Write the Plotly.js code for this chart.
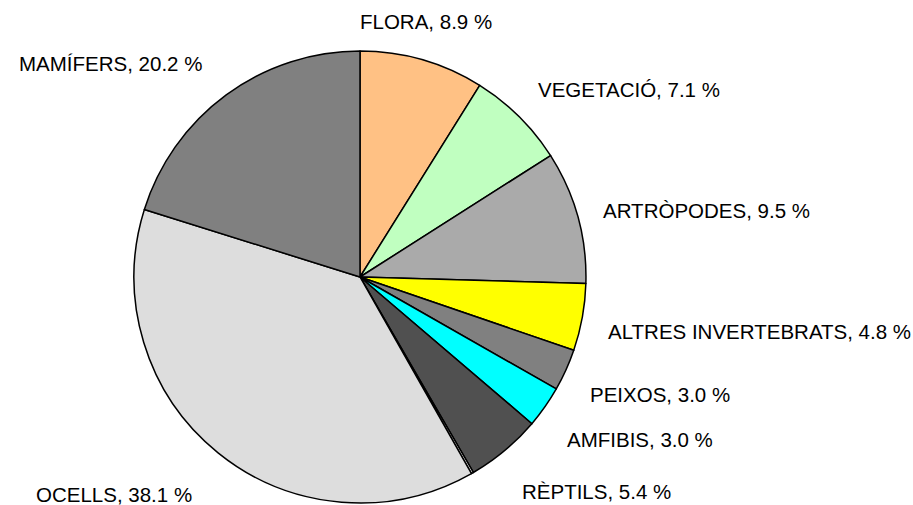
<!DOCTYPE html>
<html>
<head>
<meta charset="utf-8">
<script src="https://cdn.plot.ly/plotly-3.0.1.min.js"></script>
<style>
  html, body { margin: 0; padding: 0; background: #fff; }
  #graphDiv { width: 913px; height: 505px; }
</style>
</head>
<body>
<div id="graphDiv"></div>
<script>
// slices, clockwise from 12 o'clock
var labels = ['FLORA', 'VEGETACIÓ', 'ARTRÒPODES', 'ALTRES INVERTEBRATS', 'PEIXOS',
              'AMFIBIS', 'RÈPTILS', 'ALTRES', 'OCELLS', 'MAMÍFERS'];
var values = [8.9, 7.1, 9.5, 4.8, 3.0, 3.0, 5.4, 0.15, 38.1, 20.2];
var shown = [true, true, true, true, true, true, true, false, true, true];
var colors = ['#ffc184', '#c0ffc0', '#aaaaaa', '#ffff00', '#808080',
              '#00ffff', '#505050', '#ffffff', '#dddddd', '#808080'];

var W = 913, H = 505;
var domX = [0.1468, 0.6418], domY = [0.004, 0.899];

// pie centre / radius in pixels (follows from the domain)
var cx = (domX[0] + domX[1]) / 2 * W;
var cy = H - (domY[0] + domY[1]) / 2 * H;
var R = Math.min((domX[1] - domX[0]) * W, (domY[1] - domY[0]) * H) / 2;

var font = { family: 'Liberation Sans, Arial, sans-serif', size: 20.5, color: '#000' };

// labels sit a bit away from the rim, like the original
var total = values.reduce(function(a, b){ return a + b; }, 0);
var annotations = [];
var cum = 0;
for (var i = 0; i < values.length; i++) {
  var mid = (cum + values[i] / 2) / total * 2 * Math.PI;
  cum += values[i];
  if (!shown[i]) continue;
  var s = Math.sin(mid), c = Math.cos(mid);
  var anchor, px;
  if (Math.abs(s) < 0.3) { anchor = 'center'; px = cx + (R + 14) * s; }
  else if (s > 0) { anchor = 'left'; px = cx + (R + 24) * s; }
  else { anchor = 'right'; px = cx + (R + 38) * s; }
  var py = cy - (R + 46) * c + 6;
  annotations.push({
    xref: 'paper', yref: 'paper',
    x: px / W, y: (H - py) / H,
    xanchor: anchor, yanchor: 'middle',
    text: labels[i] + ', ' + values[i].toFixed(1) + ' %',
    showarrow: false,
    font: font
  });
}

var pie = {
  type: 'pie',
  labels: labels,
  values: values,
  textinfo: 'none',
  sort: false,
  direction: 'clockwise',
  rotation: 0,
  marker: {
    colors: colors,
    line: { color: '#000', width: 1.5 }
  },
  domain: { x: domX, y: domY },
  hoverinfo: 'none'
};

var layout = {
  width: W,
  height: H,
  margin: { l: 0, r: 0, t: 0, b: 0 },
  showlegend: false,
  paper_bgcolor: '#fff',
  annotations: annotations
};

Plotly.newPlot(graphDiv, [pie], layout, { displayModeBar: false, staticPlot: true });
</script>
</body>
</html>
